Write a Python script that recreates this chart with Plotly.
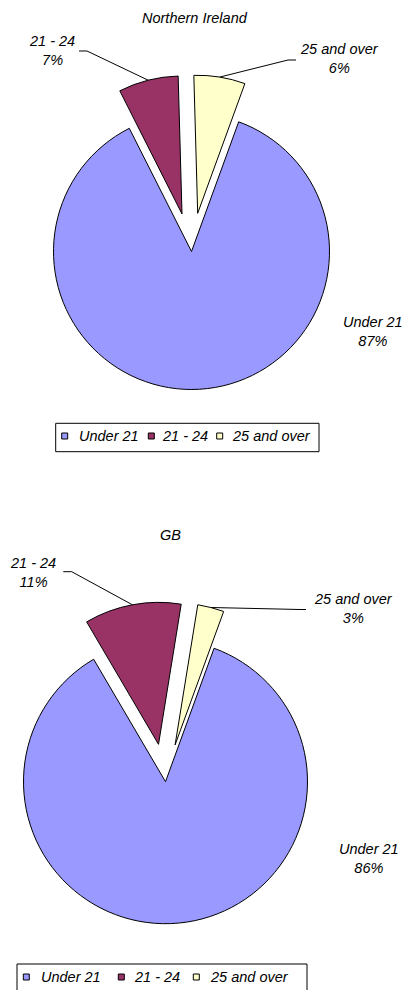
import math
import plotly.graph_objects as go

# ---- data ----
labels = ["Under 21", "21 - 24", "25 and over"]
colors = ["#9999FF", "#993366", "#FFFFCC"]
ni_values = [87, 7, 6]
gb_values = [86, 11, 3]
chart_titles = ["Northern Ireland", "GB"]

# ---- layout helpers (screen pixel -> paper); the page body adds an 8px offset ----
OFF = 8
W, H = 412 - OFF, 990 - OFF


def fx(x):
    return (x - OFF) / W


def fy(y):
    return 1 - (y - OFF) / H


FONT = dict(family="Liberation Sans, Arial, sans-serif", size=14.5,
            color="#000000", style="italic")

panels = [
    dict(values=ni_values, title=chart_titles[0], cx=191.5, cy=251.5, r=138,
         explode=38.7, rotation=20, title_xy=(195, 18),
         label_xy=[(373, 331.7), (52, 50.5), (339, 58)],
         leader=[None, [(87, 51), (79, 51)], [(288, 60), (296, 60)]],
         box=(55.7, 423.3, 319, 451.7), sq_x=[61.7, 148.3, 216.7],
         tx_x=[77, 160, 230], leg_y=436),
    dict(values=gb_values, title=chart_titles[1], cx=165.5, cy=781.7, r=142,
         explode=38.0, rotation=20, title_xy=(170, 535),
         label_xy=[(369, 858.5), (33, 572), (353, 608)],
         leader=[None, [(71.7, 571.7), (63.3, 571.7)], [(300, 609.5), (306, 609.5)]],
         box=(17, 964, 307, 995), sq_x=[23.3, 118.3, 193.3],
         tx_x=[39.3, 131.7, 208.3], leg_y=977),
]

fig = go.Figure()
shapes = []
annotations = []

for p in panels:
    vals = p["values"]
    total = float(sum(vals))
    cum = 0.0
    for i, v in enumerate(vals):
        mid = math.radians(p["rotation"] + 360.0 * (cum + v / 2.0) / total)
        cum += v
        d = 0.0 if i == 0 else p["explode"]
        ax = p["cx"] + d * math.sin(mid)
        ay = p["cy"] - d * math.cos(mid)
        r = p["r"]
        fig.add_trace(go.Pie(
            labels=labels, values=vals, sort=False, direction="clockwise",
            rotation=p["rotation"], textinfo="none", hoverinfo="skip",
            showlegend=False,
            marker=dict(
                colors=[c if j == i else "rgba(0,0,0,0)" for j, c in enumerate(colors)],
                line=dict(color="#000000",
                          width=[1 if j == i else 0 for j in range(len(vals))]),
            ),
            domain=dict(x=[fx(ax - r), fx(ax + r)], y=[fy(ay + r), fy(ay - r)]),
        ))
        # data label
        pct = round(v / total * 100)
        lx, ly = p["label_xy"][i]
        annotations.append(dict(
            text=f"{labels[i]}<br>{pct}%", x=fx(lx), y=fy(ly), xref="paper",
            yref="paper", showarrow=False, xanchor="center", yanchor="middle",
            font=FONT, align="center"))
        # leader line
        if p["leader"][i] is not None:
            ex = ax + r * math.sin(mid)
            ey = ay - r * math.cos(mid)
            (bx, by), (cx2, cy2) = p["leader"][i]
            path = (f"M {fx(ex)},{fy(ey)} L {fx(bx)},{fy(by)} "
                    f"L {fx(cx2)},{fy(cy2)}")
            shapes.append(dict(type="path", path=path, xref="paper",
                               yref="paper", line=dict(color="#000000", width=1)))
    # title
    tx, ty = p["title_xy"]
    annotations.append(dict(text=p["title"], x=fx(tx), y=fy(ty), xref="paper",
                            yref="paper", showarrow=False, xanchor="center",
                            yanchor="middle", font=FONT))
    # legend box
    x0, y0, x1, y1 = p["box"]
    shapes.append(dict(type="rect", xref="paper", yref="paper",
                       x0=fx(x0), x1=fx(x1), y0=fy(y1), y1=fy(y0),
                       line=dict(color="#000000", width=1),
                       fillcolor="#FFFFFF", layer="below"))
    for j, lab in enumerate(labels):
        sx = p["sq_x"][j]
        ly = p["leg_y"]
        shapes.append(dict(type="rect", xref="paper", yref="paper",
                           x0=fx(sx), x1=fx(sx + 6), y0=fy(ly + 3), y1=fy(ly - 3),
                           line=dict(color="#000000", width=1),
                           fillcolor=colors[j]))
        annotations.append(dict(text=lab, x=fx(p["tx_x"][j]), y=fy(ly),
                                xref="paper", yref="paper", showarrow=False,
                                xanchor="left", yanchor="middle", font=FONT))

fig.update_layout(
    width=W, height=H, margin=dict(l=0, r=0, t=0, b=0),
    paper_bgcolor="#FFFFFF", plot_bgcolor="#FFFFFF",
    showlegend=False, shapes=shapes, annotations=annotations,
)

fig.write_html("out.html")
